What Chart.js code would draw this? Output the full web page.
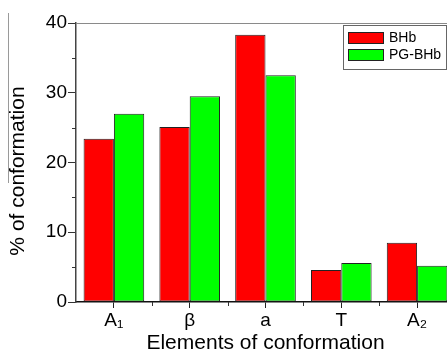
<!DOCTYPE html>
<html>
<head>
<meta charset="utf-8">
<script src="https://cdn.jsdelivr.net/npm/chart.js@4/dist/chart.umd.min.js"></script>
<style>
  html, body { margin: 0; padding: 0; background: #fff; overflow: hidden; }
  #wrap { width: 447px; height: 354px; overflow: hidden; }
</style>
</head>
<body>
<div id="wrap"><canvas id="chart" width="456" height="354"></canvas></div>
<script>
// dữ liệu
const categories = ['A\u2081', '\u03B2', 'a', 'T', 'A\u2082'];
const bhbValues = [23.4, 25.1, 38.3, 4.6, 8.5];
const pgBhbValues = [27.0, 29.5, 32.5, 5.6, 5.2];
const yTicks = [0, 10, 20, 30, 40];
const yMinorTicks = [5, 15, 25, 35];
const yTitle = '% of conformation';

const FONT = "'Liberation Sans', Arial, sans-serif";

// khung trên, vạch phụ, tiêu đề trục y và chú thích
const decorPlugin = {
  id: 'decor',
  afterDraw(chart) {
    const ctx = chart.ctx;
    const area = chart.chartArea;
    const y = chart.scales.y;
    ctx.save();

    // đường viền trên
    ctx.strokeStyle = '#8a8a8a';
    ctx.lineWidth = 1;
    ctx.beginPath();
    ctx.moveTo(area.left, area.top + 0.5);
    ctx.lineTo(area.right + 5, area.top + 0.5);
    ctx.stroke();

    // vạch phụ trục y
    ctx.strokeStyle = '#333';
    yMinorTicks.forEach(v => {
      const py = Math.round(y.getPixelForValue(v)) + 0.5;
      ctx.beginPath();
      ctx.moveTo(area.left - 4, py);
      ctx.lineTo(area.left, py);
      ctx.stroke();
    });

    // vạch phụ trục x (giữa các nhóm)
    const step = (area.right - area.left) / categories.length;
    for (let i = 1; i < categories.length; i++) {
      const px = Math.round(area.left + i * step) + 0.5;
      ctx.beginPath();
      ctx.moveTo(px, area.bottom);
      ctx.lineTo(px, area.bottom + 4);
      ctx.stroke();
    }

    // đường xám bên trái (viền hình gốc)
    ctx.strokeStyle = '#9a9a9a';
    ctx.beginPath();
    ctx.moveTo(8.5, 13);
    ctx.lineTo(8.5, 183);
    ctx.stroke();

    // tiêu đề trục y
    ctx.fillStyle = '#000';
    ctx.font = '21px ' + FONT;
    ctx.textAlign = 'center';
    ctx.textBaseline = 'middle';
    ctx.translate(18, 171);
    ctx.rotate(-Math.PI / 2);
    ctx.fillText(yTitle, 0, 0);
    ctx.setTransform(1, 0, 0, 1, 0, 0);

    // chú thích
    const bx = 343, by = 25, bw = 103, bh = 44;
    ctx.fillStyle = '#fff';
    ctx.fillRect(bx, by, bw, bh);
    ctx.strokeStyle = '#666';
    ctx.strokeRect(bx + 0.5, by + 0.5, bw, bh);
    ctx.font = '14px ' + FONT;
    ctx.textAlign = 'left';
    ctx.textBaseline = 'middle';
    chart.data.datasets.forEach((ds, i) => {
      const sy = 32 + i * 17;
      ctx.fillStyle = ds.backgroundColor;
      ctx.fillRect(348, sy, 36, 12);
      ctx.strokeStyle = '#222';
      ctx.strokeRect(348.5, sy + 0.5, 35, 11);
      ctx.fillStyle = '#000';
      ctx.fillText(ds.label, 389, sy + 6.5);
    });
    ctx.restore();
  }
};

new Chart(document.getElementById('chart').getContext('2d'), {
  type: 'bar',
  data: {
    labels: categories,
    datasets: [
      {
        label: 'BHb',
        data: bhbValues,
        backgroundColor: '#ff0000',
        borderColor: '#222',
        borderWidth: 1,
        borderSkipped: false
      },
      {
        label: 'PG-BHb',
        data: pgBhbValues,
        backgroundColor: '#00ff00',
        borderColor: '#222',
        borderWidth: 1,
        borderSkipped: false
      }
    ]
  },
  options: {
    responsive: false,
    animation: false,
    devicePixelRatio: 1,
    layout: { padding: { top: 23, right: 1, left: 0, bottom: 0 } },
    datasets: { bar: { categoryPercentage: 0.8, barPercentage: 1.0 } },
    plugins: {
      legend: { display: false },
      tooltip: { enabled: false }
    },
    scales: {
      x: {
        offset: true,
        grid: {
          offset: false,
          drawOnChartArea: false,
          drawTicks: true,
          tickLength: 6,
          tickColor: '#222'
        },
        border: { color: '#111', width: 1.5 },
        ticks: {
          color: '#000',
          padding: 1,
          font: { family: FONT, size: 19 },
          maxRotation: 0
        },
        title: {
          display: true,
          text: 'Elements of conformation',
          color: '#000',
          font: { family: FONT, size: 21, lineHeight: 1 },
          padding: { top: 0, bottom: 0 }
        },
        afterFit: function(scale) { scale.height = 52; }
      },
      y: {
        min: 0,
        max: 40,
        afterBuildTicks: function(scale) {
          scale.ticks = yTicks.map(v => ({ value: v }));
        },
        grid: {
          drawOnChartArea: false,
          drawTicks: true,
          tickLength: 8,
          tickColor: '#333'
        },
        border: { color: '#444', width: 1.5 },
        ticks: {
          color: '#000',
          padding: 1,
          font: { family: FONT, size: 19 }
        },
        title: { display: false },
        afterFit: function(scale) { scale.width = 76; }
      }
    }
  },
  plugins: [decorPlugin]
});
</script>
</body>
</html>
